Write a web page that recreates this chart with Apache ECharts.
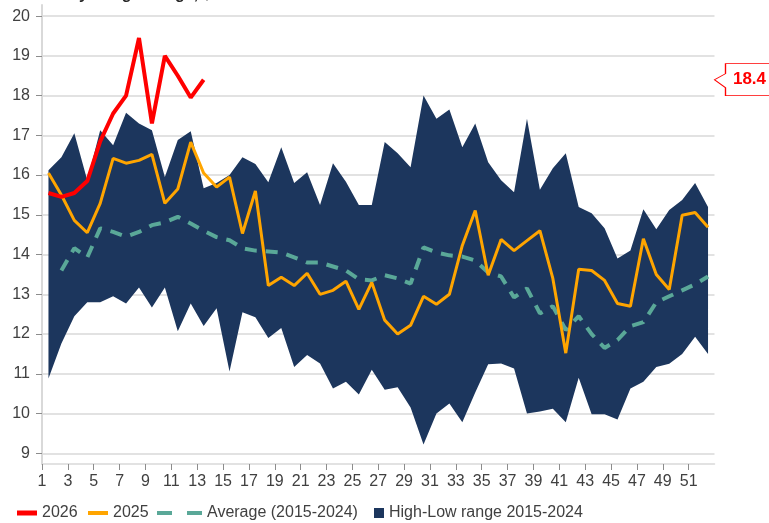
<!DOCTYPE html>
<html>
<head>
<meta charset="utf-8">
<script src="https://cdn.jsdelivr.net/npm/echarts@6/dist/echarts.min.js"></script>
<style>
  html, body { margin: 0; padding: 0; background: #fff; }
  #chart { width: 769px; height: 523px; }
</style>
</head>
<body>
<div id="chart"></div>
<script>
const weeks = [1, 2, 3, 4, 5, 6, 7, 8, 9, 10, 11, 12, 13, 14, 15, 16, 17, 18, 19, 20, 21, 22, 23, 24, 25, 26,
  27, 28, 29, 30, 31, 32, 33, 34, 35, 36, 37, 38, 39, 40, 41, 42, 43, 44, 45, 46, 47, 48, 49, 50, 51, 52]
const xTickLabels = [1, 3, 5, 7, 9, 11, 13, 15, 17, 19, 21, 23, 25, 27, 29, 31, 33, 35, 37, 39, 41, 43, 45, 47, 49, 51]
const yTicks = [9, 10, 11, 12, 13, 14, 15, 16, 17, 18, 19, 20]

const values2026 = [15.55, 15.45, 15.55, 15.85, 16.85, 17.55, 18.0, 19.45, 17.3, 19.0, 18.5, 17.95, 18.4]
const values2025 = [16.05, 15.5, 14.86, 14.55, 15.29, 16.42, 16.3, 16.37, 16.52, 15.29, 15.65, 16.83, 16.05,
  15.7, 15.95, 14.53, 15.6, 13.22, 13.43, 13.22, 13.53, 13.0, 13.1, 13.33, 12.62, 13.3, 12.35, 12.0, 12.22,
  12.95, 12.75, 13.0, 14.23, 15.11, 13.48, 14.38, 14.1, 14.35, 14.6, 13.4, 11.52, 13.63, 13.6, 13.35, 12.77,
  12.7, 14.4, 13.5, 13.12, 14.99, 15.06, 14.69]
const average = [null, 13.6, 14.16, 13.93, 14.66, 14.57, 14.45, 14.57, 14.74, 14.81, 14.95, 14.78, 14.6,
  14.44, 14.36, 14.16, 14.1, 14.08, 14.05, 13.93, 13.8, 13.8, 13.7, 13.6, 13.38, 13.35, 13.48, 13.4, 13.27,
  14.18, 14.05, 13.98, 13.95, 13.85, 13.55, 13.45, 12.92, 13.15, 12.52, 12.7, 12.1, 12.45, 12.0, 11.65, 11.85,
  12.2, 12.3, 12.8, 12.95, 13.1, 13.25, 13.45]
const rangeHigh = [16.12, 16.45, 17.05, 15.87, 17.13, 16.75, 17.57, 17.3, 17.13, 15.95, 16.88, 17.1, 15.67,
  15.8, 16.0, 16.45, 16.28, 15.82, 16.7, 15.8, 16.07, 15.25, 16.3, 15.83, 15.25, 15.25, 16.83, 16.55, 16.2,
  18.0, 17.42, 17.65, 16.7, 17.3, 16.32, 15.87, 15.57, 17.42, 15.63, 16.17, 16.55, 15.2, 15.04, 14.66, 13.9,
  14.1, 15.14, 14.64, 15.12, 15.37, 15.8, 15.2]
const rangeLow = [10.88, 11.76, 12.45, 12.8, 12.8, 12.95, 12.77, 13.17, 12.67, 13.17, 12.07, 12.77, 12.2,
  12.65, 11.06, 12.55, 12.42, 11.9, 12.15, 11.17, 11.47, 11.26, 10.63, 10.8, 10.48, 11.1, 10.6, 10.66, 10.15,
  9.22, 10.0, 10.25, 9.78, 10.53, 11.24, 11.26, 11.13, 10.0, 10.05, 10.12, 9.78, 10.9, 9.98, 9.98, 9.85,
  10.63, 10.8, 11.17, 11.25, 11.5, 11.93, 11.5]

const FONT = 'Arial, "Liberation Sans", sans-serif'
const TEXT = '#404040'
const GRID_GRAY = '#d9d9d9'
const NAVY = '#1c365d'
const TEAL = '#5aa898'

const pairs = (vals) => vals.map((v, i) => [weeks[i], v])
// ticks sit on the week boundaries, labelled with the week that follows
const xTickPos = xTickLabels.map((w) => w - 0.5)
const last2026 = values2026[values2026.length - 1]

const chart = echarts.init(document.getElementById('chart'))

const legendText = { fontSize: 16, color: TEXT, fontFamily: FONT }

const option = {
  animation: false,
  title: {
    text: 'Weekly margin range, $/bbl',
    left: 28,
    top: -18,
    textStyle: { fontSize: 16, fontWeight: 'bold', color: '#262626', fontFamily: FONT },
  },
  grid: { left: 42, right: 54.5, top: 5, bottom: 59 },
  legend: [
    {
      data: [{ name: '2026', icon: 'rect' }], left: 12, top: 500, itemWidth: 20, itemHeight: 5,
      itemTextGap: 4, textStyle: legendText,
    },
    {
      data: [{ name: '2025', icon: 'rect' }], left: 83, top: 500, itemWidth: 20, itemHeight: 4,
      itemTextGap: 3, textStyle: legendText,
    },
    {
      data: [{ name: 'Average (2015-2024)', icon: 'path://M0,0 H15 V4 H0 Z M30,0 H45 V4 H30 Z' }],
      left: 152, top: 500, itemWidth: 45, itemHeight: 4, itemTextGap: 3, textStyle: legendText,
    },
    {
      data: [{ name: 'High-Low range 2015-2024', icon: 'rect' }], left: 369, top: 500, itemWidth: 10,
      itemHeight: 10, itemTextGap: 5, textStyle: legendText,
    },
  ],
  xAxis: [
    {
      // band axis used by the stacked range area
      type: 'category',
      position: 'top',
      data: weeks,
      boundaryGap: true,
      show: false,
    },
    {
      type: 'value',
      position: 'bottom',
      min: 0.5,
      max: 52.5,
      axisLine: { show: true, onZero: false, lineStyle: { color: GRID_GRAY, width: 1.5 } },
      axisTick: { show: true, customValues: xTickPos, length: 6, lineStyle: { color: '#8c8c8c' } },
      axisLabel: {
        customValues: xTickPos,
        formatter: (v) => String(Math.round(v + 0.5)),
        margin: 10,
        fontSize: 16,
        color: TEXT,
        fontFamily: FONT,
      },
      splitLine: { show: false },
    },
  ],
  yAxis: {
    type: 'value',
    min: 8.73,
    max: 20.28,
    axisLine: { show: true, lineStyle: { color: GRID_GRAY, width: 2 } },
    axisTick: { show: true, customValues: yTicks, length: 6, lineStyle: { color: '#8c8c8c' } },
    axisLabel: { customValues: yTicks, margin: 12, fontSize: 16, color: TEXT, fontFamily: FONT },
    splitLine: { show: true, lineStyle: { color: GRID_GRAY, width: 1.5 } },
  },
  series: [
    {
      name: 'low',
      type: 'line',
      xAxisIndex: 0,
      stack: 'range',
      data: rangeLow,
      symbol: 'none',
      lineStyle: { width: 0, opacity: 0 },
      silent: true,
    },
    {
      name: 'High-Low range 2015-2024',
      type: 'line',
      xAxisIndex: 0,
      stack: 'range',
      data: rangeHigh.map((h, i) => h - rangeLow[i]),
      symbol: 'none',
      itemStyle: { color: NAVY },
      lineStyle: { width: 0, opacity: 0 },
      areaStyle: { color: NAVY, opacity: 1 },
    },
    {
      name: 'Average (2015-2024)',
      type: 'line',
      xAxisIndex: 1,
      data: pairs(average),
      symbol: 'none',
      itemStyle: { color: TEAL },
      lineStyle: { color: TEAL, width: 4, type: [12, 9] },
    },
    {
      name: '2025',
      type: 'line',
      xAxisIndex: 1,
      data: pairs(values2025),
      symbol: 'none',
      itemStyle: { color: '#ffa500' },
      lineStyle: { color: '#ffa500', width: 3 },
    },
    {
      name: '2026',
      type: 'line',
      xAxisIndex: 1,
      data: pairs(values2026),
      symbol: 'none',
      clip: false,
      itemStyle: { color: '#ff0000' },
      lineStyle: { color: '#ff0000', width: 4 },
      markPoint: {
        silent: true,
        data: [{ coord: [52.5, last2026], value: last2026 }],
        symbol: 'path://M0,16 L11,10 L11,0 L60,0 L60,32 L11,32 L11,24 Z',
        symbolSize: [60, 32],
        symbolOffset: [30, 0],
        itemStyle: { color: '#ffffff', borderColor: '#ff0000', borderWidth: 1 },
        label: {
          show: true,
          position: 'inside',
          offset: [5, 0],
          formatter: (p) => p.value.toFixed(1),
          color: '#ff0000',
          fontSize: 17,
          fontWeight: 'bold',
          fontFamily: FONT,
        },
      },
    },
  ],
}

chart.setOption(option)
</script>
</body>
</html>
